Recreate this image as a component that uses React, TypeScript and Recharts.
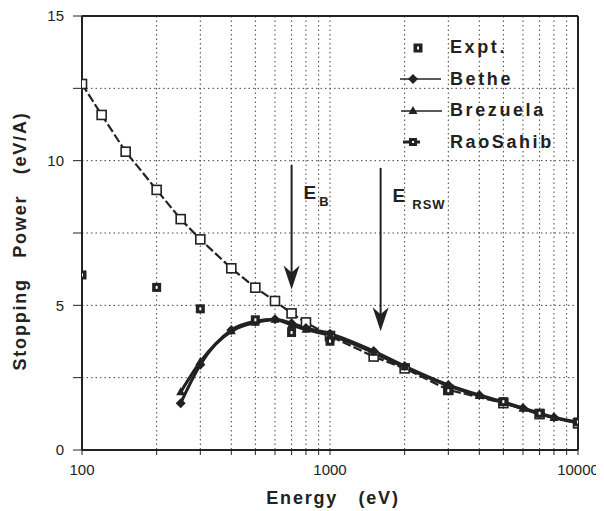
import React from 'react'
import { LineChart, Line, XAxis, YAxis, CartesianGrid, ReferenceLine, ReferenceDot, Label } from 'recharts'

// energies (eV) and stopping power (eV/A)
const exptEnergy = [100, 200, 300, 500, 700, 1000, 3000, 5000, 7000, 10000]
const exptPower = [6.05, 5.62, 4.88, 4.5, 4.06, 3.76, 2.05, 1.67, 1.27, 0.97]

const theoryEnergy = [250, 300, 400, 500, 600, 700, 800, 1000, 1500, 2000, 3000, 4000, 5000, 6000, 7000, 8000, 10000]
const bethePower = [1.62, 2.95, 4.15, 4.45, 4.52, 4.38, 4.22, 4.02, 3.42, 2.9, 2.25, 1.9, 1.66, 1.45, 1.27, 1.13, 0.96]
const brezuelaPower = [2.0, 3.05, 4.1, 4.4, 4.5, 4.32, 4.16, 3.96, 3.36, 2.86, 2.22, 1.87, 1.63, 1.43, 1.25, 1.11, 0.94]

const raoEnergy = [100, 120, 150, 200, 250, 300, 400, 500, 600, 700, 800, 1000, 1500, 2000, 3000, 5000, 7000, 10000]
const raoPower = [12.65, 11.58, 10.31, 8.99, 7.98, 7.28, 6.28, 5.61, 5.15, 4.72, 4.41, 3.94, 3.23, 2.82, 2.08, 1.62, 1.24, 0.92]

const xTicks = [100, 200, 300, 400, 500, 600, 700, 800, 900, 1000, 2000, 3000, 4000, 5000, 6000, 7000, 8000, 9000, 10000]
const xLabels = [100, 1000, 10000]
const yTicks = [0, 2.5, 5, 7.5, 10, 12.5, 15]

const arrows = [
  { name: 'B', energy: 700, from: 9.85, to: 5.55 },
  { name: 'RSW', energy: 1600, from: 9.75, to: 4.1 },
]

const ink = '#222'
const font = 'Liberation Sans, Arial, sans-serif'

const exptData = exptEnergy.map((e, i) => ({ e, v: exptPower[i] }))
const betheData = theoryEnergy.map((e, i) => ({ e, v: bethePower[i] }))
const brezuelaData = theoryEnergy.map((e, i) => ({ e, v: brezuelaPower[i] }))
const raoData = raoEnergy.map((e, i) => ({ e, v: raoPower[i] }))

const ExptDot = (p: any) => (
  <g key={'ex' + p.index}>
    <rect x={p.cx - 4.5} y={p.cy - 4.5} width={9} height={9} fill={ink} />
    <rect x={p.cx - 1} y={p.cy - 1.5} width={2} height={3} fill="#fff" />
  </g>
)

const DiamondDot = (p: any) => (
  <path key={'be' + p.index} d={`M${p.cx},${p.cy - 5} L${p.cx + 5},${p.cy} L${p.cx},${p.cy + 5} L${p.cx - 5},${p.cy} Z`} fill={ink} />
)

const TriangleDot = (p: any) => (
  <path key={'bz' + p.index} d={`M${p.cx},${p.cy - 5} L${p.cx + 4.5},${p.cy + 3} L${p.cx - 4.5},${p.cy + 3} Z`} fill={ink} />
)

const OpenSquare = (p: any) => (
  <rect key={'rs' + p.index} x={p.cx - 4.5} y={p.cy - 4.5} width={9} height={9} fill="#fff" stroke={ink} strokeWidth={1.6} />
)

const ArrowHead = (p: any) => (
  <path d={`M${p.cx},${p.cy} L${p.cx - 8},${p.cy - 24} L${p.cx},${p.cy - 17} L${p.cx + 8},${p.cy - 24} Z`} fill={ink} />
)

const legendItems = [
  { label: 'Expt.', kind: 'expt' },
  { label: 'Bethe', kind: 'bethe' },
  { label: 'Brezuela', kind: 'brez' },
  { label: 'RaoSahib', kind: 'rao' },
]

const LegendIcon = ({ kind }: { kind: string }) => (
  <svg width={50} height={20}>
    {kind === 'expt' && <ExptDot cx={18} cy={10} index={0} />}
    {kind === 'bethe' && (
      <g>
        <line x1={0} y1={10} x2={41} y2={10} stroke={ink} strokeWidth={1.6} />
        <DiamondDot cx={13} cy={10} index={0} />
      </g>
    )}
    {kind === 'brez' && (
      <g>
        <line x1={1} y1={10} x2={42} y2={10} stroke={ink} strokeWidth={1.6} />
        <TriangleDot cx={13} cy={10} index={0} />
      </g>
    )}
    {kind === 'rao' && (
      <g>
        <line x1={3} y1={10} x2={20} y2={10} stroke={ink} strokeWidth={3} />
        <rect x={9} y={6} width={8} height={8} fill={ink} />
        <rect x={12} y={9} width={2} height={2} fill="#fff" />
      </g>
    )}
  </svg>
)

const ArrowLabel = (name: string) => (p: any) => (
  <text x={p.cx + 12} y={p.cy + 8} fill={ink} fontFamily={font} fontWeight={700}>
    <tspan fontSize={19}>E</tspan>
    <tspan fontSize={13} dx={name === 'B' ? 3 : 7} dy={7} letterSpacing={1}>{name}</tspan>
  </text>
)

export default function App() {
  return (
    <div style={{ width: 590, height: 503, background: '#fff', position: 'relative' }}>
      <LineChart width={590} height={503} margin={{ top: 8, right: 20, bottom: 8, left: 0 }}>
        <CartesianGrid stroke="#444" strokeDasharray="1.5 3" />
        <XAxis
          type="number"
          dataKey="e"
          scale="log"
          domain={[100, 10000]}
          allowDataOverflow
          ticks={xTicks}
          interval={0}
          tickFormatter={(v: number) => (xLabels.includes(v) ? String(v) : '')}
          height={53}
          stroke={ink}
          axisLine={{ stroke: ink, strokeWidth: 2 }}
          tickLine={{ stroke: ink }}
          tickSize={5}
          tick={{ fill: ink, fontSize: 15, fontFamily: font, dy: 7 }}
        >
          <Label
            content={(p: any) => (
              <text x={p.viewBox.x + p.viewBox.width / 2 + 3} y={p.viewBox.y + 54} textAnchor="middle" fill={ink}
                fontSize={18} fontWeight={700} letterSpacing={1.8} fontFamily={font} style={{ whiteSpace: 'pre' }}>
                {'Energy   (eV)'}
              </text>
            )}
          />
        </XAxis>
        <YAxis
          type="number"
          domain={[0, 15]}
          ticks={yTicks}
          interval={0}
          tickFormatter={(v: number) => (v % 5 === 0 ? String(v) : '')}
          width={74}
          axisLine={{ stroke: ink, strokeWidth: 2 }}
          tickLine={{ stroke: ink }}
          tickSize={9}
          tick={{ fill: ink, fontSize: 15, fontFamily: font, dx: -7 }}
        >
          <Label
            content={(p: any) => {
              const cx = p.viewBox.x + 12
              const cy = p.viewBox.y + p.viewBox.height / 2 + 8
              return (
                <text x={cx} y={cy} transform={`rotate(-90 ${cx} ${cy})`} textAnchor="middle" dominantBaseline="central" fill={ink}
                  fontSize={18} fontWeight={700} letterSpacing={1.8} fontFamily={font} style={{ whiteSpace: 'pre' }}>
                  {'Stopping   Power   (eV/A)'}
                </text>
              )
            }}
          />
        </YAxis>
        <ReferenceLine y={15} stroke={ink} strokeWidth={2} />
        <ReferenceLine x={10000} stroke={ink} strokeWidth={2} />
        {arrows.map((a) => (
          <ReferenceLine key={a.name + 'l'} segment={[{ x: a.energy, y: a.from }, { x: a.energy, y: a.to + 0.4 }]} stroke={ink} strokeWidth={2} />
        ))}
        {arrows.map((a) => (
          <ReferenceDot key={a.name + 'h'} x={a.energy} y={a.to} r={0} shape={ArrowHead} />
        ))}
        {arrows.map((a) => (
          <ReferenceDot key={a.name + 't'} x={a.energy} y={a.from - 0.9} r={0} shape={ArrowLabel(a.name)} />
        ))}
        <Line data={raoData} dataKey="v" name="RaoSahib" type="linear" stroke={ink} strokeWidth={2.2} strokeDasharray="9 3" dot={OpenSquare} isAnimationActive={false} />
        <Line data={brezuelaData} dataKey="v" name="Brezuela" type="monotone" stroke={ink} strokeWidth={3} dot={TriangleDot} isAnimationActive={false} />
        <Line data={betheData} dataKey="v" name="Bethe" type="monotone" stroke={ink} strokeWidth={3} dot={DiamondDot} isAnimationActive={false} />
        <Line data={exptData} dataKey="v" name="Expt." stroke="none" dot={ExptDot} isAnimationActive={false} />
      </LineChart>
      <div style={{ position: 'absolute', left: 392, top: 24, fontFamily: font }}>
        {legendItems.map((it) => (
          <div key={it.label} style={{ display: 'flex', alignItems: 'center', height: 31.5 }}>
            <LegendIcon kind={it.kind} />
            <span style={{ fontSize: 18, fontWeight: 700, letterSpacing: 2.6, color: ink }}>{it.label}</span>
          </div>
        ))}
      </div>
    </div>
  )
}
